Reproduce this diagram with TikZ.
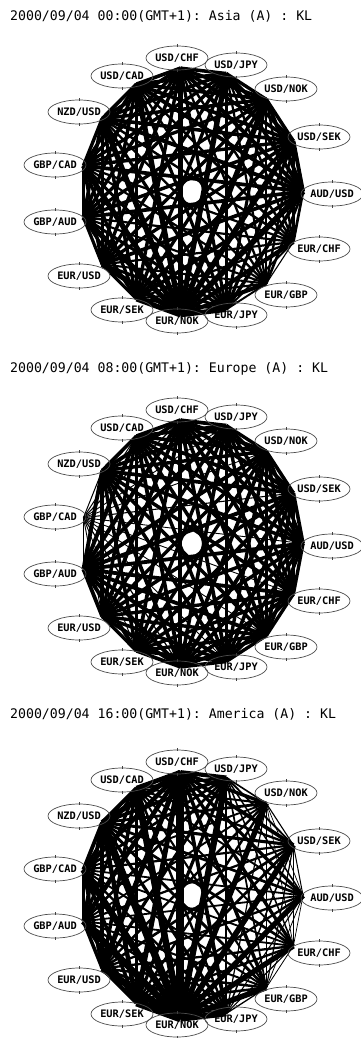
\documentclass[tikz,border=0pt]{standalone}
\usepackage{fontspec}
\setmonofont{DejaVu Sans Mono}
\usetikzlibrary{shapes.geometric}

% weight of each pair (edge width = sum of the two weights)
\def\asia{{1.8,1.7,1.7,1.8,2.1,0.6,0.5,1.4,3.6,1.6,1.6,1.6,1.6,1.8,1.8}}
\def\europe{{2.0,1.7,1.7,1.9,1.7,1.7,1.7,1.7,2.0,1.7,1.7,2.1,-0.8,1.8,1.8}}
\def\america{{3.2,1.4,0.6,0.9,0.5,0.5,0.7,1.0,5.2,2.2,2.2,1.7,1.7,2.6,1.8}}

\tikzset{
  pair/.style={ellipse, draw=black!70, line width=0.7pt, minimum width=62pt,
    minimum height=24pt, inner sep=0pt,
    font=\ttfamily\bfseries\fontsize{10.3}{11}\selectfont},
  hdr/.style={anchor=base west, inner sep=0pt,
    font=\ttfamily\fontsize{13.2}{14}\selectfont},
  link/.style={line cap=butt},
  tick/.style={black!75, line width=0.6pt},
}

\begin{document}
\begin{tikzpicture}[x=1pt, y=-1pt]
\useasboundingbox (0,0) rectangle (361,1038);

%---- Asia
\node[hdr] (atitle) at (10,21) {2000/09/04 00:00(GMT+1): Asia (A) : KL};
\foreach \k in {0,...,14}
  \coordinate (av\k) at ({192+111*sin(-6+24*\k)}, {191.5-124*cos(-6+24*\k)});
\foreach \i in {0,...,13} {
  \pgfmathtruncatemacro\inext{\i+1}
  \foreach \j in {\inext,...,14} {
    \pgfmathsetmacro\w{max(0.7,\asia[\i]+\asia[\j])}
    \draw[link, line width=\w pt] (av\i) -- (av\j);
  }
}
\foreach \k/\base/\quote/\lx/\ly in {0/USD/CHF/177/58, 1/USD/JPY/236/65,
    2/USD/NOK/286/89, 3/USD/SEK/319/137, 4/AUD/USD/332/194, 5/EUR/CHF/319/249,
    6/EUR/GBP/286/295, 7/EUR/JPY/236/315, 8/EUR/NOK/177/321, 9/EUR/SEK/122/310,
    10/EUR/USD/79/276, 11/GBP/AUD/55/222, 12/GBP/CAD/55/165, 13/NZD/USD/79/112,
    14/USD/CAD/122/76} {
  \node[pair] (al\k) at (\lx,\ly) {\base/\quote};
  \draw[tick] (al\k.north) ++(0,-1.5) -- ++(0,3);
  \draw[tick] (al\k.south) ++(0,-1.5) -- ++(0,3);
}

%---- Europe
\begin{scope}[yshift=-352pt]
\node[hdr] (btitle) at (10,20) {2000/09/04 08:00(GMT+1): Europe (A) : KL};
\foreach \k in {0,...,14}
  \coordinate (bv\k) at ({192+111*sin(-6+24*\k)}, {191.5-124*cos(-6+24*\k)});
\foreach \i in {0,...,13} {
  \pgfmathtruncatemacro\inext{\i+1}
  \foreach \j in {\inext,...,14} {
    \pgfmathsetmacro\w{max(0.7,\europe[\i]+\europe[\j])}
    \draw[link, line width=\w pt] (bv\i) -- (bv\j);
  }
}
\foreach \k/\base/\quote/\lx/\ly in {0/USD/CHF/177/58, 1/USD/JPY/236/65,
    2/USD/NOK/286/89, 3/USD/SEK/319/137, 4/AUD/USD/332/194, 5/EUR/CHF/319/249,
    6/EUR/GBP/286/295, 7/EUR/JPY/236/315, 8/EUR/NOK/177/321, 9/EUR/SEK/122/310,
    10/EUR/USD/79/276, 11/GBP/AUD/55/222, 12/GBP/CAD/55/165, 13/NZD/USD/79/112,
    14/USD/CAD/122/76} {
  \node[pair] (bl\k) at (\lx,\ly) {\base/\quote};
  \draw[tick] (bl\k.north) ++(0,-1.5) -- ++(0,3);
  \draw[tick] (bl\k.south) ++(0,-1.5) -- ++(0,3);
}
\end{scope}

%---- America
\begin{scope}[yshift=-704pt]
\node[hdr] (ctitle) at (10,14) {2000/09/04 16:00(GMT+1): America (A) : KL};
\foreach \k in {0,...,14}
  \coordinate (cv\k) at ({192+111*sin(-6+24*\k)}, {191.5-124*cos(-6+24*\k)});
\foreach \i in {0,...,13} {
  \pgfmathtruncatemacro\inext{\i+1}
  \foreach \j in {\inext,...,14} {
    \pgfmathsetmacro\w{max(0.7,\america[\i]+\america[\j]-0.4)}
    \draw[link, line width=\w pt] (cv\i) -- (cv\j);
  }
}
\foreach \k/\base/\quote/\lx/\ly in {0/USD/CHF/177/58, 1/USD/JPY/236/65,
    2/USD/NOK/286/89, 3/USD/SEK/319/137, 4/AUD/USD/332/194, 5/EUR/CHF/319/249,
    6/EUR/GBP/286/295, 7/EUR/JPY/236/315, 8/EUR/NOK/177/321, 9/EUR/SEK/122/310,
    10/EUR/USD/79/276, 11/GBP/AUD/55/222, 12/GBP/CAD/55/165, 13/NZD/USD/79/112,
    14/USD/CAD/122/76} {
  \node[pair] (cl\k) at (\lx,\ly) {\base/\quote};
  \draw[tick] (cl\k.north) ++(0,-1.5) -- ++(0,3);
  \draw[tick] (cl\k.south) ++(0,-1.5) -- ++(0,3);
}
\end{scope}
\end{tikzpicture}
\end{document}
